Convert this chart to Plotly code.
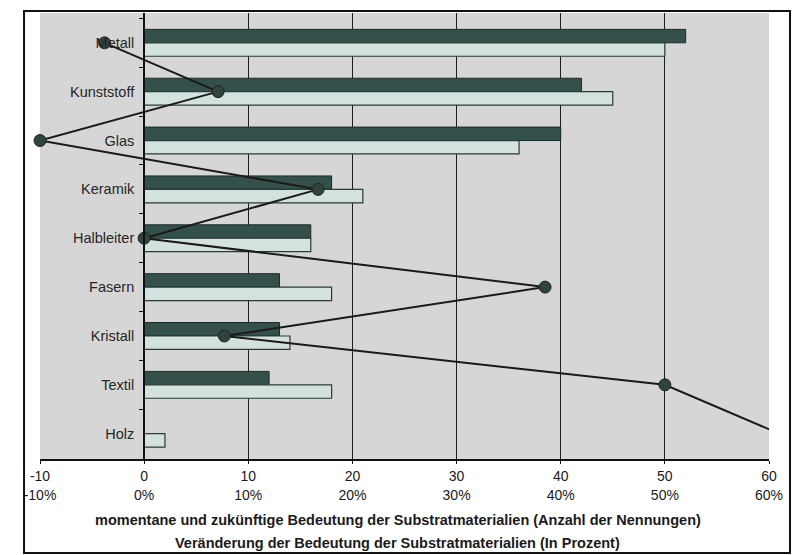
import plotly.graph_objects as go

# Substrate materials and their weighting (number of mentions)
materials = ["Metall", "Kunststoff", "Glas", "Keramik", "Halbleiter",
             "Fasern", "Kristall", "Textil", "Holz"]
current = [52, 42, 40, 18, 16, 13, 13, 12, 0]
future = [50, 45, 36, 21, 16, 18, 14, 18, 2]
# Change of importance in percent (Holz runs off the scale)
change_pct = [-3.8, 7.1, -10.0, 16.7, 0.0, 38.5, 7.7, 50.0, 61.0]

count_ticks = [-10, 0, 10, 20, 30, 40, 50, 60]
pct_ticks = [-10, 0, 10, 20, 30, 40, 50, 60]

FONT = "Liberation Sans, Arial, sans-serif"

# the off-scale point keeps its line segment but no visible dot
marker_sizes = [12 if v <= 60 else 0 for v in change_pct]

fig = go.Figure()

fig.add_trace(go.Bar(
    y=materials, x=current, orientation="h", name="momentan",
    marker=dict(color="#34504a", line=dict(color="#1c2b28", width=1)),
    xaxis="x", yaxis="y",
))
fig.add_trace(go.Bar(
    y=materials, x=future, orientation="h", name="zukünftig",
    marker=dict(color="#d3e2de", line=dict(color="#2a3a36", width=1.2)),
    xaxis="x", yaxis="y",
))
fig.add_trace(go.Scatter(
    y=materials, x=change_pct, mode="lines+markers", name="Veränderung",
    line=dict(color="#1a1a1a", width=2),
    marker=dict(size=marker_sizes, color="#2f433f", opacity=1,
                line=dict(color="#222", width=1)),
    xaxis="x2", yaxis="y", cliponaxis=False,
))

fig.update_layout(
    width=795, height=555,
    margin=dict(l=40, r=26, t=13, b=96),
    paper_bgcolor="white",
    plot_bgcolor="#d6d6d6",
    showlegend=False,
    barmode="group",
    bargap=0.45,
    bargroupgap=0.0,
    font=dict(family=FONT, size=12, color="#1a1a1a"),
    xaxis=dict(
        range=[-10, 60], tickvals=count_ticks,
        ticktext=[str(v) for v in count_ticks],
        showgrid=True, gridcolor="#1e1e1e", gridwidth=1,
        zeroline=False,
        showline=True, linecolor="#111", linewidth=2,
        ticks="outside", ticklen=3, tickcolor="#111",
        tickfont=dict(size=14, family=FONT),
        anchor="y", side="bottom",
    ),
    xaxis2=dict(
        range=[-10, 60], tickvals=pct_ticks,
        ticktext=[f"{v}%" for v in pct_ticks],
        overlaying="x", anchor="y", side="bottom",
        showgrid=False, zeroline=False, showline=False,
        ticks="", ticklabelstandoff=26,
        tickfont=dict(size=14, family=FONT),
    ),
    yaxis=dict(
        autorange="reversed",
        anchor="free", position=1 / 7,
        showline=True, linecolor="#111", linewidth=2,
        ticks="outside", tickson="boundaries", ticklen=4, tickcolor="#111",
        showgrid=False, zeroline=False,
        tickfont=dict(size=14.5, family=FONT, color="#262626"),
        ticklabelstandoff=6,
    ),
)

# axis captions
fig.add_annotation(
    text="<b>momentane und zukünftige Bedeutung der Substratmaterialien (Anzahl der Nennungen)</b>",
    xref="paper", yref="paper", x=0.491, y=-0.137, yanchor="middle",
    showarrow=False, font=dict(size=14.5, family=FONT, color="#1a1a1a"),
)
fig.add_annotation(
    text="<b>Veränderung der Bedeutung der Substratmaterialien (In Prozent)</b>",
    xref="paper", yref="paper", x=0.491, y=-0.189, yanchor="middle",
    showarrow=False, font=dict(size=14.5, family=FONT, color="#1a1a1a"),
)

# outer frame around the whole chart
fig.add_shape(
    type="rect", xref="paper", yref="paper",
    x0=-0.0219, x1=1.0288, y0=-0.2108, y1=1.0045,
    line=dict(color="#111", width=2), fillcolor="rgba(0,0,0,0)",
    layer="above",
)

fig.write_html("out.html")
